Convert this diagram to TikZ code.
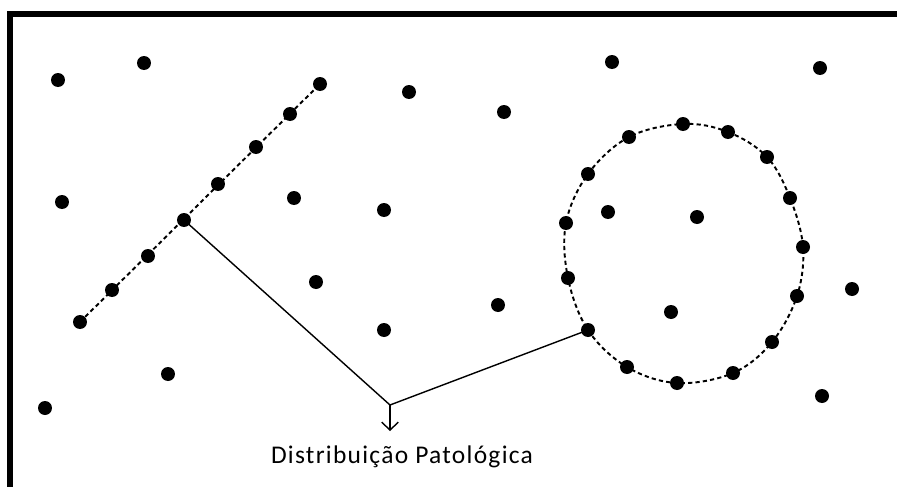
\documentclass[tikz,border=0pt]{standalone}
\usepackage{fontspec}
\setmainfont{Carlito}
\newfontfamily\lblfont[LetterSpace=5]{Carlito}
\usetikzlibrary{arrows.meta}
\begin{document}
\begin{tikzpicture}[x=0.02cm,y=-0.02cm,
  dot/.style={circle,fill=black,inner sep=0pt,minimum size=0.28cm},
  dashline/.style={line width=1.1pt,dash pattern=on 2.4pt off 1.8pt},
  link/.style={line width=0.8pt},
  frame/.style={line width=3pt}]
\useasboundingbox (0,0) rectangle (897,487);
\draw[frame] (10,487) -- (10,14) -- (897,14);
% scattered dots
\foreach \n/\x/\y in {a1/58/80,a2/144/63,a3/409/92,a4/504/112,a5/612/62,a6/820/68,
  a7/62/202,a8/294/198,a9/384/210,a10/316/282,a11/498/305,a12/384/330,
  a13/168/374,a14/45/408,a15/852/289,a16/822/396,
  i1/608/212,i2/697/217,i3/671/312}
  \node[dot] (\n) at (\x,\y) {};
% dots on line
\foreach \n/\x/\y in {l1/80/322,l2/112/290,l3/148/256,l4/184/220,l5/218/184,l6/256/147,l7/290/114,l8/320/84}
  \node[dot] (\n) at (\x,\y) {};
% dots on circle
\foreach \n/\x/\y in {c1/683/124,c2/728/132,c3/767/157,c4/790/198,c5/803/247,c6/797/296,
  c7/772/342,c8/733/373,c9/677/383,c10/627/367,c11/588/330,c12/568/278,c13/566/223,c14/588/174,c15/629/137}
  \node[dot] (\n) at (\x,\y) {};
\draw[dashline] (l1.center) -- (l8.center);
\draw[dashline] plot[smooth cycle,tension=0.6] coordinates {(c1.center)(c2.center)(c3.center)(c4.center)(c5.center)(c6.center)(c7.center)(c8.center)(c9.center)(c10.center)(c11.center)(c12.center)(c13.center)(c14.center)(c15.center)};
\coordinate (v) at (390,405);
\node[font=\lblfont\fontsize{14.5pt}{17pt}\selectfont,anchor=base] (lbl) at (402,463) {Distribuição Patológica};
\draw[link] (l4.center) -- (v) -- (c11.center);
\draw[link,-{Straight Barb[length=4.5pt,width=9.5pt]}] (v) -- (390,431);
\end{tikzpicture}
\end{document}
